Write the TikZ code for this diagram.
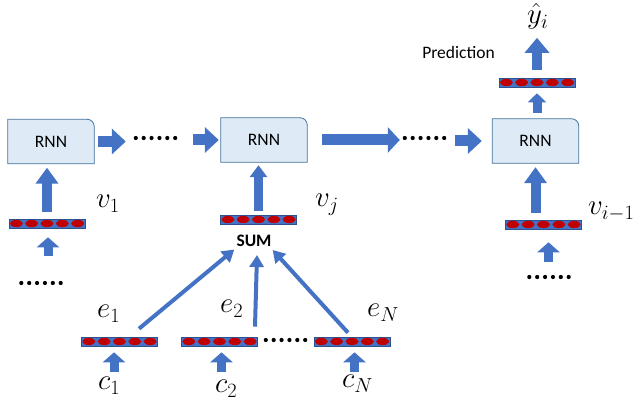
\RequirePackage{fix-cm}
\documentclass[tikz,border=0pt]{standalone}
\usepackage{fontspec}
\setsansfont{Carlito}
\usetikzlibrary{calc,arrows.meta,backgrounds}

\definecolor{arrowblue}{HTML}{4472C4}
\definecolor{barline}{HTML}{2F528F}
\definecolor{boxfill}{HTML}{DEEBF7}
\definecolor{boxline}{HTML}{41719C}
\definecolor{cellred}{HTML}{C00000}

\def\cells(#1){\foreach \k [evaluate=\k as \f using (\k-0.5)/5] in {1,...,5} \fill[cellred] ($(#1.west)!\f!(#1.east)$) ellipse (6.5pt and 3.6pt);}
\def\dotrow(#1){\foreach \k [evaluate=\k as \f using \k/5] in {0,...,5} \fill[black] ($(#1.west)!\f!(#1.east)$) circle (2.1pt);}
\def\rnnshape(#1){\draw[boxline, fill=boxfill, line width=0.8pt] (#1.south west) -- (#1.north west) -- ([xshift=-7pt]#1.north east) arc (90:0:7pt) -- (#1.south east) -- cycle;}

\tikzset{
	rnnbox/.style={minimum width=86pt, minimum height=44pt, inner sep=0pt, font=\sffamily\fontsize{17.5}{20}\selectfont},
	vecbar/.style={rectangle, fill=arrowblue, draw=barline, line width=0.6pt, minimum width=76pt, minimum height=9pt, inner sep=0pt},
	dotsrow/.style={minimum width=39pt, minimum height=4pt, inner sep=0pt},
	mathlabel/.style={anchor=base west, inner sep=0pt, font=\fontsize{29}{33}\selectfont},
	plainlabel/.style={inner sep=1pt, font=\sffamily\fontsize{17.5}{20}\selectfont},
	flowarrow/.style={arrowblue, line width=11pt, -{Triangle[length=14pt,width=25pt]}},
	riseup/.style={arrowblue, line width=10pt, -{Triangle[length=16pt,width=22pt]}},
	smallup/.style={arrowblue, line width=9pt, -{Triangle[length=10pt,width=22pt]}},
	sumarrow/.style={arrowblue, line width=4pt, -{Triangle[length=12pt,width=14pt]}}
}

\begin{document}
\begin{tikzpicture}[x=1pt, y=-1pt]
			%%%%% START %%%%%
			\useasboundingbox (0,0) rectangle (638,411);
			
			% recurrent cells
			\node[rnnbox] (rnn1) at (51,141.5) {RNN};
			\node[rnnbox] (rnn2) at (264,140) {RNN};
			\node[rnnbox] (rnn3) at (535.5,141) {RNN};
			\begin{scope}[on background layer]
				\rnnshape(rnn1)
				\rnnshape(rnn2)
				\rnnshape(rnn3)
			\end{scope}
			
			% vectors
			\node[vecbar] (v1bar) at (47,223.5) {};
			\node[vecbar] (vjbar) at (258.5,219.5) {};
			\node[vecbar] (vibar) at (543.5,224.5) {};
			\node[vecbar] (predbar) at (537,82.5) {};
			\node[vecbar] (e1bar) at (119.5,341.5) {};
			\node[vecbar] (e2bar) at (219.5,341.5) {};
			\node[vecbar] (eNbar) at (352,341.5) {};
			\foreach \v in {v1bar,vjbar,vibar,predbar,e1bar,e2bar,eNbar} {\cells(\v)}
			
			% dots
			\node[dotsrow] (dots1) at (155.5,138) {};
			\node[dotsrow] (dots2) at (424.5,138) {};
			\node[dotsrow] (dots3) at (41,283) {};
			\node[dotsrow] (dots4) at (549,277) {};
			\node[dotsrow] (dots5) at (285.5,340) {};
			\foreach \d in {dots1,dots2,dots3,dots4,dots5} {\dotrow(\d)}
			
			% texts
			\node[plainlabel, font=\sffamily\bfseries\fontsize{17.5}{20}\selectfont] (sum) at (254,241) {SUM};
			\node[plainlabel] (pred) at (458.5,52) {Prediction};
			\node[mathlabel] (v1) at (96,208) {$v_1$};
			\node[mathlabel] (vj) at (315,207) {$v_j$};
			\node[mathlabel] (vi) at (588,215) {$v_{i-1}$};
			\node[mathlabel] (yhat) at (527,24) {$\hat{y}_i$};
			\node[mathlabel] (e1) at (97,318) {$e_1$};
			\node[mathlabel] (e2) at (220,313) {$e_2$};
			\node[mathlabel] (eN) at (367,317) {$e_N$};
			\node[mathlabel] (c1) at (98,390) {$c_1$};
			\node[mathlabel] (c2) at (215,393) {$c_2$};
			\node[mathlabel] (cN) at (342,388) {$c_N$};
			
			% chain arrows
			\draw[flowarrow, shorten <=4pt, shorten >=10pt] (rnn1.east) -- (rnn1.east -| dots1.west);
			\draw[flowarrow, shorten <=18pt, shorten >=2pt] (dots1.east |- rnn2.west) -- (rnn2.west);
			\draw[flowarrow, -{Triangle[length=12pt,width=25pt]}, shorten <=15pt, shorten >=5pt] (rnn2.east) -- (rnn2.east -| dots2.west);
			\draw[flowarrow, shorten <=11pt, shorten >=10.5pt] (dots2.east |- rnn3.west) -- (rnn3.west);
			
			% inputs and output
			\draw[riseup, shorten <=7pt, shorten >=4pt] (v1bar.north) -- (v1bar.north |- rnn1.south);
			\draw[riseup, line width=9pt, -{Triangle[length=12pt,width=17pt]}, shorten <=4pt, shorten >=3pt] (vjbar.north) -- (vjbar.north |- rnn2.south);
			\draw[riseup, shorten <=7pt, shorten >=4pt] (rnn3.south |- vibar.north) -- (rnn3.south);
			\draw[smallup, -{Triangle[length=9pt,width=18pt]}, shorten <=6pt, shorten >=6pt] (predbar.south |- rnn3.north) -- (predbar.south);
			\draw[riseup, -{Triangle[length=15pt,width=24pt]}, shorten <=8pt, shorten >=8pt] (predbar.north) -- (predbar.north |- yhat.south);
			
			\coordinate (v1in) at (48,256);
			\coordinate (viin) at (548.5,262);
			\coordinate (c1in) at (114,372);
			\coordinate (c2in) at (221.5,372);
			\coordinate (cNin) at (354.5,372);
			\draw[smallup, shorten >=9pt] (v1in) -- (v1in |- v1bar.south);
			\draw[smallup, shorten >=13pt] (viin) -- (viin |- vibar.south);
			\foreach \c/\e in {c1in/e1bar,c2in/e2bar,cNin/eNbar}
				\draw[smallup, shorten >=6pt] (\c) -- (\c |- \e.south);
			
			% summing
			\draw[sumarrow] ([xshift=19.5pt,yshift=8pt]e1bar.north) -- ([xshift=-1pt,yshift=-1.5pt]sum.south west);
			\draw[sumarrow] ([xshift=35.5pt,yshift=10pt]e2bar.north) -- ([xshift=3pt,yshift=-7pt]sum.south);
			\draw[sumarrow] ([xshift=-4pt,yshift=4pt]eNbar.north) -- ([yshift=-2pt]sum.south east);
			
			%%%%% END %%%%%
\end{tikzpicture}
\end{document}
